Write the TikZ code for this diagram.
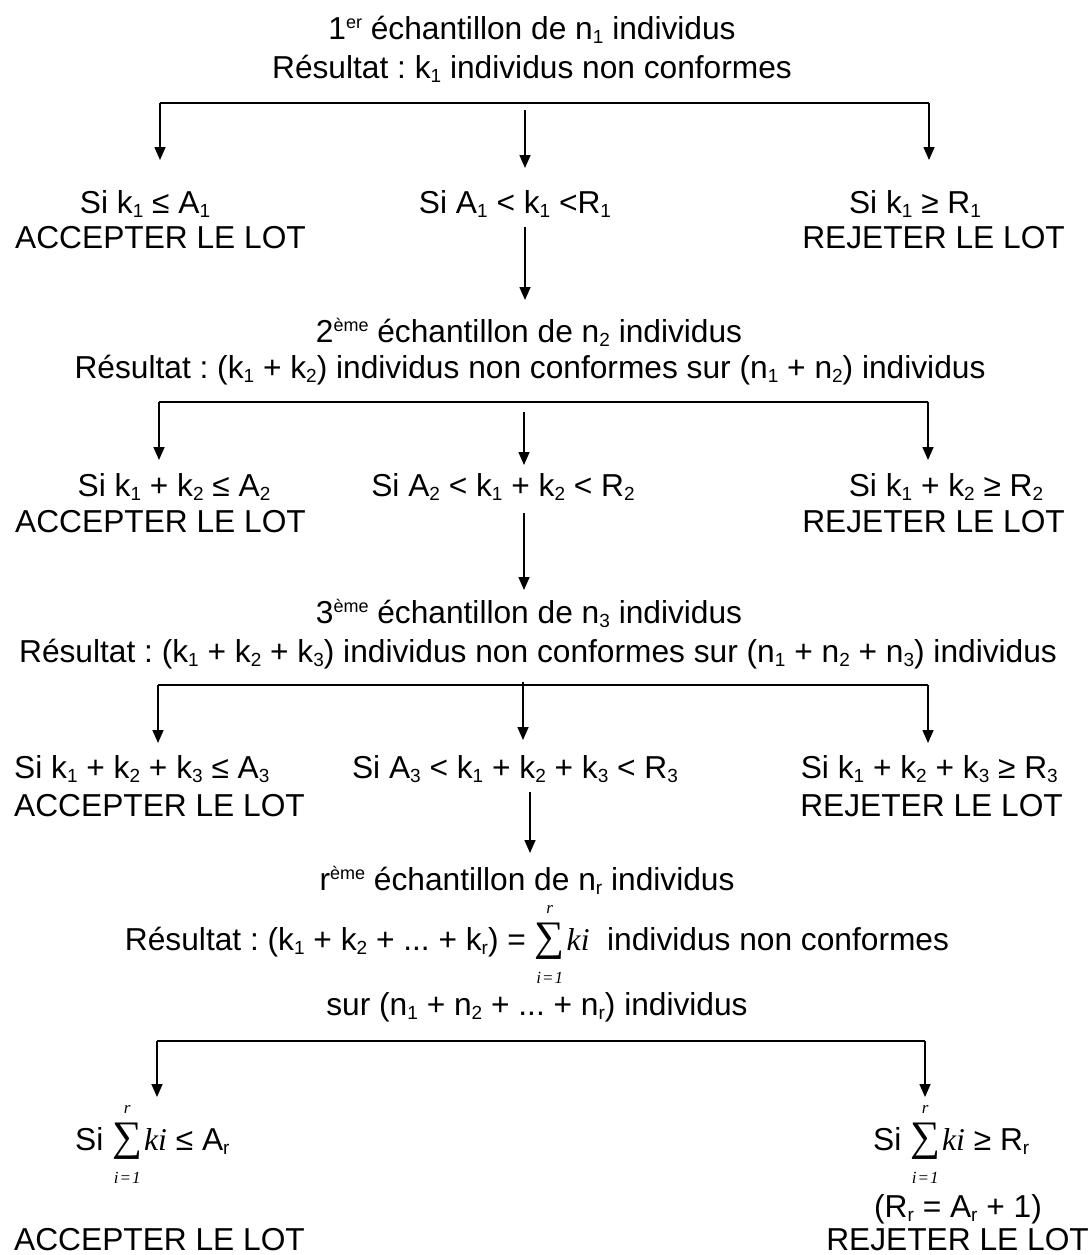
\documentclass[tikz,border=0pt]{standalone}
\usepackage{fontspec}
\setmainfont{Liberation Sans}
\newfontfamily\serif{Liberation Serif}
\usetikzlibrary{arrows.meta}
\frenchspacing
\newcommand\ssub[1]{\raisebox{-4pt}{\fontsize{19}{19}\selectfont #1}}
\newcommand\ssup[1]{\raisebox{11pt}{\fontsize{18}{18}\selectfont #1}}
\newlength\sumw
\newcommand\sumki{\mbox{\serif
  \settowidth{\sumw}{\fontsize{42}{42}\selectfont ∑}%
  \makebox[0pt][l]{\makebox[\sumw]{\raisebox{37pt}{\fontsize{17}{17}\selectfont\itshape r}}}%
  \makebox[0pt][l]{\makebox[\sumw]{\raisebox{-33pt}{\fontsize{17}{17}\selectfont\itshape i\kern1pt=\kern1pt1}}}%
  \makebox[\sumw]{\fontsize{42}{42}\selectfont ∑}%
  \kern2pt{\itshape ki}}}
\begin{document}
\begin{tikzpicture}[x=1pt,y=-1pt,
  font=\fontsize{31.7}{36}\selectfont,
  t/.style={inner sep=0pt, anchor=base},
  tw/.style={inner sep=0pt, anchor=base west},
  te/.style={inner sep=0pt, anchor=base east},
  arr/.style={-{Triangle[length=13pt,width=11pt]}, line width=1.6pt},
  bus/.style={line width=2.2pt}]
\useasboundingbox (0,0) rectangle (1091,1255);

% ---------- block 1
\node[t] (t1) at (532,40) {1\ssup{er} échantillon de n\ssub{1} individus};
\node[t] (t2) at (532,78) {Résultat : k\ssub{1} individus non conformes};
\coordinate (b1L) at (160,103);
\coordinate (b1R) at (929,103);
\coordinate (b1M) at (525,110);
\coordinate (p1L) at (160,160);
\coordinate (p1M) at (525,168);
\coordinate (p1R) at (929,160);
\draw[bus] (b1L) -- (b1R);
\draw[arr] (b1L) -- (p1L);
\draw[arr] (b1R) -- (p1R);
\draw[arr] (b1M) -- (p1M);
\node[t] (s1L) at (145,213) {Si k\ssub{1} ≤ A\ssub{1}};
\node[t] (s1M) at (515,213) {Si A\ssub{1} < k\ssub{1} <R\ssub{1}};
\node[t] (s1R) at (915,213) {Si k\ssub{1} ≥ R\ssub{1}};
\node[tw] (a1) at (15,248) {ACCEPTER LE LOT};
\node[te] (r1) at (1065,248) {REJETER LE LOT};
\coordinate (c1a) at (525,227);
\coordinate (c1b) at (525,300);
\draw[arr] (c1a) -- (c1b);

% ---------- block 2
\node[t] (t3) at (529,342) {2\ssup{ème} échantillon de n\ssub{2} individus};
\node[t] (t4) at (530,378) {Résultat : (k\ssub{1} + k\ssub{2}) individus non conformes sur (n\ssub{1} + n\ssub{2}) individus};
\coordinate (b2L) at (159,402);
\coordinate (b2R) at (928,402);
\coordinate (b2M) at (524,412);
\coordinate (p2L) at (159,460);
\coordinate (p2M) at (524,465);
\coordinate (p2R) at (928,460);
\draw[bus] (b2L) -- (b2R);
\draw[arr] (b2L) -- (p2L);
\draw[arr] (b2R) -- (p2R);
\draw[arr] (b2M) -- (p2M);
\node[t] (s2L) at (174,496) {Si k\ssub{1} + k\ssub{2} ≤ A\ssub{2}};
\node[t] (s2M) at (503,496) {Si A\ssub{2} < k\ssub{1} + k\ssub{2} < R\ssub{2}};
\node[t] (s2R) at (946,496) {Si k\ssub{1} + k\ssub{2} ≥ R\ssub{2}};
\node[tw] (a2) at (15,532) {ACCEPTER LE LOT};
\node[te] (r2) at (1065,532) {REJETER LE LOT};
\coordinate (c2a) at (524,513);
\coordinate (c2b) at (524,590);
\draw[arr] (c2a) -- (c2b);

% ---------- block 3
\node[t] (t5) at (529,623) {3\ssup{ème} échantillon de n\ssub{3} individus};
\node[t] (t6) at (538,662) {Résultat : (k\ssub{1} + k\ssub{2} + k\ssub{3}) individus non conformes sur (n\ssub{1} + n\ssub{2} + n\ssub{3}) individus};
\coordinate (b3L) at (158,685);
\coordinate (b3R) at (928,685);
\coordinate (b3M) at (523,682);
\coordinate (p3L) at (158,743);
\coordinate (p3M) at (523,740);
\coordinate (p3R) at (928,743);
\draw[bus] (b3L) -- (b3R);
\draw[arr] (b3L) -- (p3L);
\draw[arr] (b3R) -- (p3R);
\draw[arr] (b3M) -- (p3M);
\node[tw] (s3L) at (14,778) {Si k\ssub{1} + k\ssub{2} + k\ssub{3} ≤ A\ssub{3}};
\node[t] (s3M) at (515,778) {Si A\ssub{3} < k\ssub{1} + k\ssub{2} + k\ssub{3} < R\ssub{3}};
\node[te] (s3R) at (1058,778) {Si k\ssub{1} + k\ssub{2} + k\ssub{3} ≥ R\ssub{3}};
\node[tw] (a3) at (14,816) {ACCEPTER LE LOT};
\node[te] (r3) at (1063,816) {REJETER LE LOT};
\coordinate (c3a) at (530,792);
\coordinate (c3b) at (530,853);
\draw[arr] (c3a) -- (c3b);

% ---------- block r
\node[t] (t7) at (527,890) {r\ssup{ème} échantillon de n\ssub{r} individus};
\node[t] (t8) at (537,950) {Résultat : (k\ssub{1} + k\ssub{2} + ... + k\ssub{r}) = \sumki\ \ individus non conformes};
\node[t] (t9) at (537,1015) {sur (n\ssub{1} + n\ssub{2} + ... + n\ssub{r}) individus};
\coordinate (b4L) at (157,1041);
\coordinate (b4R) at (925,1041);
\coordinate (p4L) at (157,1097);
\coordinate (p4R) at (925,1097);
\draw[bus] (b4L) -- (b4R);
\draw[arr] (b4L) -- (p4L);
\draw[arr] (b4R) -- (p4R);
\node[tw] (s4L) at (75,1150) {Si \sumki\ ≤ A\ssub{r}};
\node[tw] (s4R) at (873,1150) {Si \sumki\ ≥ R\ssub{r}};
\node[t] (s4R2) at (958,1217) {(R\ssub{r} = A\ssub{r} + 1)};
\node[tw] (a4) at (14,1250) {ACCEPTER LE LOT};
\node[te] (r4) at (1089,1250) {REJETER LE LOT};
\end{tikzpicture}
\end{document}
